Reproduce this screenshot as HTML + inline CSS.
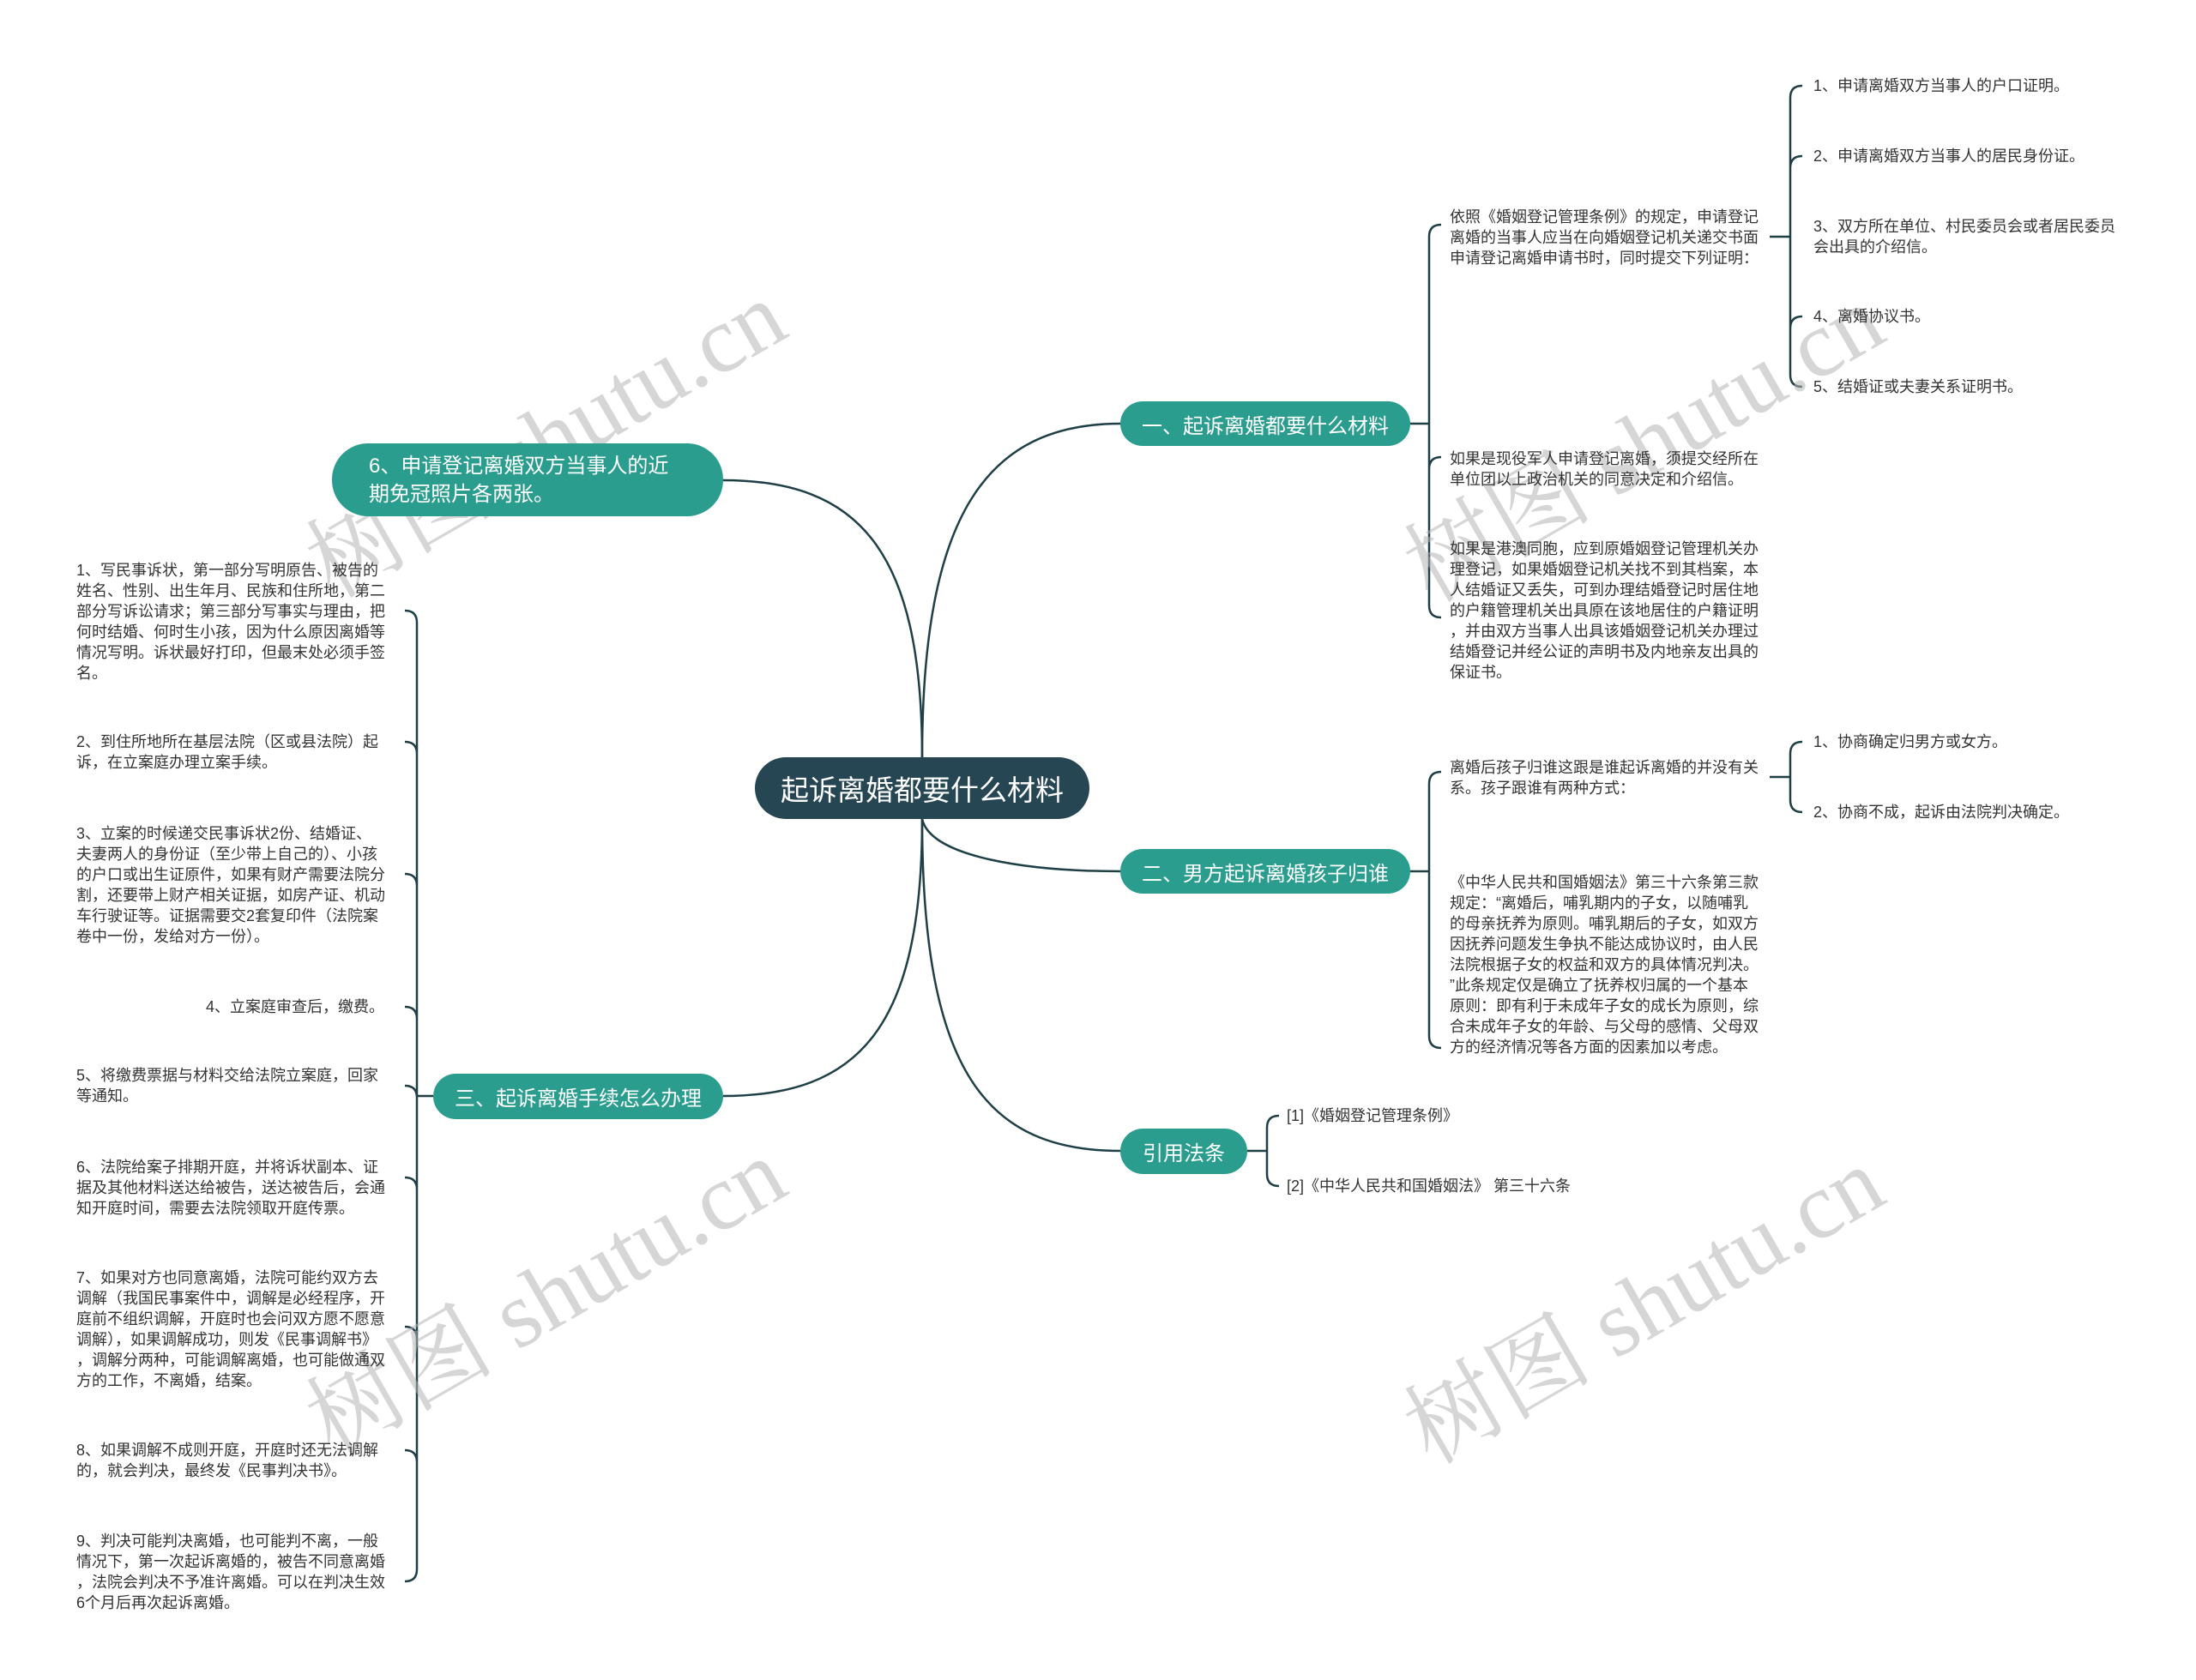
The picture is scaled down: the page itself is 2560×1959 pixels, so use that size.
<!DOCTYPE html>
<html><head><meta charset="utf-8">
<style>
body{margin:0;width:2560px;height:1959px;background:#fff;position:relative;overflow:hidden;font-family:"Liberation Sans","Noto Sans CJK SC",sans-serif;}
.t{position:absolute;font-size:18px;line-height:24px;color:#333;white-space:nowrap;}
.n{position:absolute;background:#2a9d8f;color:#fff;font-size:24px;border-radius:28px;display:flex;align-items:center;justify-content:center;white-space:nowrap;}
.wm{position:absolute;font-family:"Liberation Serif","Noto Serif CJK SC",serif;font-size:110px;color:rgba(180,180,180,0.55);transform:rotate(-30deg);white-space:nowrap;transform-origin:left top;}
</style></head><body>
<svg width="2560" height="1959" style="position:absolute;left:0;top:0" fill="none" stroke="#1f3f47" stroke-width="2.5">
<path d="M1075,883 C1075,600 1150,494 1306,494"/>
<path d="M1075,955 C1085,1000 1200,1016 1306,1016"/>
<path d="M1075,955 C1075,1250 1150,1342 1306,1342"/>
<path d="M1075,883 C1075,640 1000,560 843,560"/>
<path d="M1075,955 C1075,1200 1000,1278 843,1278"/>
<path d="M1644,494 H1666 M1666,276 V706 M1666,276 Q1666,262 1680,262 M1666,547 Q1666,533 1680,533 M1666,706 Q1666,720 1680,720"/>
<path d="M2063,276 H2087 M2087,114 V437 M2087,114 Q2087,100 2101,100 M2087,437 Q2087,451 2101,451 M2087,196 Q2087,182 2101,182 M2087,383 Q2087,369 2101,369"/>
<path d="M1644,1016 H1666 M1666,914 V1208 M1666,914 Q1666,900 1680,900 M1666,1208 Q1666,1222 1680,1222"/>
<path d="M2063,906 H2087 M2087,879 V933 M2087,879 Q2087,865 2101,865 M2087,933 Q2087,947 2101,947"/>
<path d="M1454,1342 H1477 M1477,1315 V1369 M1477,1315 Q1477,1301 1491,1301 M1477,1369 Q1477,1383 1491,1383"/>
<path d="M505,1278 H486 M486,726 V1830 M486,726 Q486,712 472,712 M486,1830 Q486,1844 472,1844 M486,879 Q486,865 472,865 M486,1033 Q486,1019 472,1019 M486,1188 Q486,1174 472,1174 M486,1280 Q486,1266 472,1266 M486,1387 Q486,1373 472,1373 M486,1561 Q486,1547 472,1547 M486,1705 Q486,1691 472,1691"/>
</svg>

<div class="wm" style="left:325px;top:590px">树图 shutu.cn</div>
<div class="wm" style="left:1605px;top:595px">树图 shutu.cn</div>
<div class="wm" style="left:325px;top:1590px">树图 shutu.cn</div>
<div class="wm" style="left:1605px;top:1600px">树图 shutu.cn</div>

<div class="n" style="left:880px;top:883px;width:390px;height:72px;background:#264653;border-radius:36px;font-size:33px;">起诉离婚都要什么材料</div>
<div class="n" style="left:1306px;top:468px;width:338px;height:52px;">一、起诉离婚都要什么材料</div>
<div class="n" style="left:1306px;top:990px;width:338px;height:52px;">二、男方起诉离婚孩子归谁</div>
<div class="n" style="left:1306px;top:1316px;width:148px;height:53px;">引用法条</div>
<div class="n" style="left:387px;top:517px;width:456px;height:85px;border-radius:42px;justify-content:flex-start;padding-left:43px;box-sizing:border-box;line-height:33px;">6、申请登记离婚双方当事人的近<br>期免冠照片各两张。</div>
<div class="n" style="left:505px;top:1252px;width:338px;height:53px;">三、起诉离婚手续怎么办理</div>

<div class="t" style="left:1690px;top:241px">依照《婚姻登记管理条例》的规定，申请登记<br>离婚的当事人应当在向婚姻登记机关递交书面<br>申请登记离婚申请书时，同时提交下列证明：</div>
<div class="t" style="left:1690px;top:523px">如果是现役军人申请登记离婚，须提交经所在<br>单位团以上政治机关的同意决定和介绍信。</div>
<div class="t" style="left:1690px;top:628px">如果是港澳同胞，应到原婚姻登记管理机关办<br>理登记，如果婚姻登记机关找不到其档案，本<br>人结婚证又丢失，可到办理结婚登记时居住地<br>的户籍管理机关出具原在该地居住的户籍证明<br>，并由双方当事人出具该婚姻登记机关办理过<br>结婚登记并经公证的声明书及内地亲友出具的<br>保证书。</div>
<div class="t" style="left:2114px;top:88px">1、申请离婚双方当事人的户口证明。</div>
<div class="t" style="left:2114px;top:170px">2、申请离婚双方当事人的居民身份证。</div>
<div class="t" style="left:2114px;top:252px">3、双方所在单位、村民委员会或者居民委员<br>会出具的介绍信。</div>
<div class="t" style="left:2114px;top:357px">4、离婚协议书。</div>
<div class="t" style="left:2114px;top:439px">5、结婚证或夫妻关系证明书。</div>

<div class="t" style="left:1690px;top:883px">离婚后孩子归谁这跟是谁起诉离婚的并没有关<br>系。孩子跟谁有两种方式：</div>
<div class="t" style="left:1690px;top:1017px">《中华人民共和国婚姻法》第三十六条第三款<br>规定：“离婚后，哺乳期内的子女，以随哺乳<br>的母亲抚养为原则。哺乳期后的子女，如双方<br>因抚养问题发生争执不能达成协议时，由人民<br>法院根据子女的权益和双方的具体情况判决。<br>”此条规定仅是确立了抚养权归属的一个基本<br>原则：即有利于未成年子女的成长为原则，综<br>合未成年子女的年龄、与父母的感情、父母双<br>方的经济情况等各方面的因素加以考虑。</div>
<div class="t" style="left:2114px;top:853px">1、协商确定归男方或女方。</div>
<div class="t" style="left:2114px;top:935px">2、协商不成，起诉由法院判决确定。</div>

<div class="t" style="left:1500px;top:1289px">[1]《婚姻登记管理条例》</div>
<div class="t" style="left:1500px;top:1371px">[2]《中华人民共和国婚姻法》 第三十六条</div>

<div class="t" style="left:89px;top:653px">1、写民事诉状，第一部分写明原告、被告的<br>姓名、性别、出生年月、民族和住所地，第二<br>部分写诉讼请求；第三部分写事实与理由，把<br>何时结婚、何时生小孩，因为什么原因离婚等<br>情况写明。诉状最好打印，但最末处必须手签<br>名。</div>
<div class="t" style="left:89px;top:853px">2、到住所地所在基层法院（区或县法院）起<br>诉，在立案庭办理立案手续。</div>
<div class="t" style="left:89px;top:960px">3、立案的时候递交民事诉状2份、结婚证、<br>夫妻两人的身份证（至少带上自己的）、小孩<br>的户口或出生证原件，如果有财产需要法院分<br>割，还要带上财产相关证据，如房产证、机动<br>车行驶证等。证据需要交2套复印件（法院案<br>卷中一份，发给对方一份）。</div>
<div class="t" style="left:89px;top:1162px;width:359px;text-align:right">4、立案庭审查后，缴费。</div>
<div class="t" style="left:89px;top:1242px">5、将缴费票据与材料交给法院立案庭，回家<br>等通知。</div>
<div class="t" style="left:89px;top:1349px">6、法院给案子排期开庭，并将诉状副本、证<br>据及其他材料送达给被告，送达被告后，会通<br>知开庭时间，需要去法院领取开庭传票。</div>
<div class="t" style="left:89px;top:1478px">7、如果对方也同意离婚，法院可能约双方去<br>调解（我国民事案件中，调解是必经程序，开<br>庭前不组织调解，开庭时也会问双方愿不愿意<br>调解），如果调解成功，则发《民事调解书》<br>，调解分两种，可能调解离婚，也可能做通双<br>方的工作，不离婚，结案。</div>
<div class="t" style="left:89px;top:1679px">8、如果调解不成则开庭，开庭时还无法调解<br>的，就会判决，最终发《民事判决书》。</div>
<div class="t" style="left:89px;top:1785px">9、判决可能判决离婚，也可能判不离，一般<br>情况下，第一次起诉离婚的，被告不同意离婚<br>，法院会判决不予准许离婚。可以在判决生效<br>6个月后再次起诉离婚。</div>
</body></html>
